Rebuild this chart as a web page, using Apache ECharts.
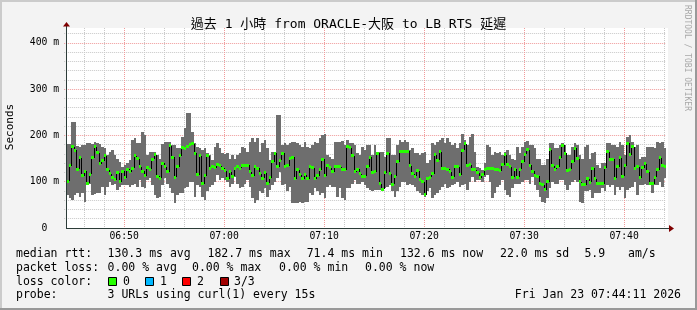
<!DOCTYPE html>
<html>
<head>
<meta charset="utf-8">
<script src="https://cdn.jsdelivr.net/npm/echarts@6/dist/echarts.min.js"></script>
<style>
html,body{margin:0;padding:0;background:#f3f3f3;}
#chart{width:697px;height:310px;}
</style>
</head>
<body>
<div id="chart"></div>
<script>
// ---------------- data ----------------
const titleText = '過去 1 小時 from ORACLE-大阪 to LB RTS 延遲';
const axisOrigin = '06:40:00';
const viewStart = '06:44:00';
const startTime = '06:44:11';
const stepSec = 15;
const spanSec = 3600;
const xTickLabels = ['06:50', '07:00', '07:10', '07:20', '07:30', '07:40'];
const yTickLabels = ['0  ', '100 m', '200 m', '300 m', '400 m'];
const yMax = 432;

const medianRtt = [
101,135,175,168,127,152,113,123,97,116,
152,175,163,139,145,156,126,117,109,104,
119,100,123,109,127,122,129,156,150,132,
123,113,130,127,148,158,112,107,140,132,
122,178,153,110,132,156,174,172,177,180,
182,161,115,156,96,113,156,129,132,130,
137,135,129,124,106,122,112,129,132,129,
135,135,136,122,113,132,129,117,107,119,
97,109,143,162,132,146,162,132,135,150,
153,106,126,115,106,115,106,132,130,106,
113,126,148,113,135,130,122,132,132,132,
126,126,176,173,156,122,127,117,112,112,
132,153,119,122,161,96,84,119,162,117,
94,112,143,166,165,165,166,135,117,112,
124,104,100,71.4,106,110,117,158,146,165,
129,129,127,122,110,132,132,115,168,182,
136,137,126,126,119,109,115,127,129,129,
129,127,126,124,137,158,137,132,110,127,
110,127,143,159,169,136,123,113,112,97,
93,83,100,169,135,127,132,152,179,162,
124,127,143,172,150,100,93,93,106,99,
129,106,97,97,96,130,165,148,149,107,
132,152,112,135,182.7,158,175,129,132,109,
130,139,122,96,96,110,126,152,136,132.6
];
const maxRtt = [
181,181,230,230,178,176,179,179,183,183,
181,185,183,181,176,172,158,165,168,158,
150,143,132,136,140,147,190,194,183,183,
208,201,158,165,165,165,158,150,181,186,
186,186,179,179,172,172,197,215,248,248,
208,183,176,172,168,172,161,158,147,176,
183,172,161,159,163,150,158,150,158,161,
176,172,165,186,194,186,194,165,183,190,
172,147,165,165,244,244,179,183,179,183,
186,186,183,179,176,186,176,172,179,186,
183,194,201,204,158,154,150,186,186,186,
188,179,190,183,183,179,161,158,176,168,
179,179,158,179,165,165,165,154,194,194,
158,158,179,190,186,190,186,168,172,161,
161,158,161,165,140,147,183,179,186,190,
194,183,194,186,179,183,172,183,204,190,
179,197,204,165,132,129,125,140,179,176,
158,165,161,165,158,165,168,158,150,147,
176,161,176,186,188,179,179,172,150,150,
136,136,150,183,183,172,172,179,183,179,
158,158,176,183,179,158,150,176,179,150,
161,165,136,129,140,140,183,183,179,179,
176,186,179,158,197,201,186,176,179,150,
154,154,176,176,176,172,186,183,186,172
];
const minRtt = [
71,64,60,71,75,68,75,57,93,96,
71,73,75,75,89,71,89,100,93,96,
82,89,93,93,93,89,93,96,89,104,
89,86,104,107,93,71,64,68,93,107,
96,86,75,53,71,75,75,86,89,100,
100,68,93,89,68,60,79,89,93,100,
115,104,107,104,100,89,96,111,96,86,
89,96,104,89,64,53,60,79,75,86,
68,82,93,100,107,122,93,96,79,89,
53,53,53,57,53,57,57,75,71,86,
79,71,75,64,89,93,89,89,68,86,
64,60,86,86,96,104,96,96,100,93,
86,82,79,82,82,82,79,86,89,93,
79,68,79,89,100,100,93,96,93,89,
79,75,71,68,79,86,64,71,75,82,
89,96,86,89,93,96,100,89,93,96,
82,100,111,100,104,104,100,111,115,100,
64,75,89,93,104,82,71,68,86,96,
96,96,100,104,104,96,111,93,82,68,
57,53,64,86,100,96,96,104,104,93,
82,93,100,104,100,57,53,79,79,82,
64,75,75,75,86,79,93,89,93,71,
89,82,89,64,82,86,89,100,71,93,
93,96,93,93,75,93,93,100,89,107
];

const legendLine1 = [['median rtt:', 16], ['130.3 ms avg', 107.6], ['182.7 ms max', 207.5], ['71.4 ms min', 306.7], ['132.6 ms now', 400], ['22.0 ms sd', 500], ['5.9', 584.4], ['am/s', 628]];
const legendLine2 = [['packet loss:', 16], ['0.00 % avg', 107.6], ['0.00 % max', 192], ['0.00 % min', 279], ['0.00 % now', 365]];
const lossLabels = ['0', '1', '2', '3/3'];
const probeText = ['probe:', '3 URLs using curl(1) every 15s'];
const dateText = 'Fri Jan 23 07:44:11 2026';
const sideText = 'RRDTOOL / TOBI OETIKER';

// ---------------- styles ----------------
const MONO = '"DejaVu Sans Mono", "Noto Sans CJK TC", monospace';
const lossColors = ['#26ff00', '#00b8ff', '#ff0000', '#a00000'];
const SMOKE = '#6e6e6e';
const MINOR = '#c8c8c8';
const MAJOR = '#f09a9a';

function toSec(s) { const p = s.split(':').map(Number); return p[0] * 3600 + p[1] * 60 + p[2]; }
const t0 = toSec(startTime) - toSec(axisOrigin);
const xMin = toSec(viewStart) - toSec(axisOrigin);
const xMax = t0 + spanSec;

const rows = medianRtt.map((m, i) => [t0 + i * stepSec, maxRtt[i], minRtt[i], m, i > 0 ? medianRtt[i - 1] : m]);

const chart = echarts.init(document.getElementById('chart'), null, { renderer: 'canvas' });

const option = {
  backgroundColor: '#f3f3f3',
  animation: false,
  title: {
    text: titleText, left: 'center', top: 13,
    textStyle: { fontFamily: MONO, fontSize: 13, fontWeight: 'normal', color: '#000' }
  },
  grid: { left: 66 - (t0 - xMin) / 6, right: 31, top: 28, bottom: 82, containLabel: false },
  xAxis: {
    type: 'value', min: xMin, max: xMax, interval: 120,
    axisLine: { show: false }, axisTick: { show: false },
    splitLine: { show: true, showMinLine: false, showMaxLine: false,
      lineStyle: { color: [MINOR, MINOR, MAJOR, MINOR, MINOR], type: [1, 1], width: 1 } },
    axisLabel: {
      margin: 4, fontFamily: MONO, fontSize: 9.75, color: '#000',
      showMinLabel: false, showMaxLabel: false,
      formatter: v => (v % 600 === 0 && v >= 600) ? (xTickLabels[v / 600 - 1] || '') : ''
    }
  },
  yAxis: {
    type: 'value', min: 0, max: yMax, interval: 20,
    axisLine: { show: false }, axisTick: { show: false },
    splitLine: { show: true, showMinLine: false, showMaxLine: false,
      lineStyle: { color: [MINOR, MINOR, MINOR, MINOR, MAJOR], type: [1, 1], width: 1 } },
    axisLabel: {
      margin: 5, fontFamily: MONO, fontSize: 9.75, color: '#000',
      formatter: v => (v % 100 === 0) ? (yTickLabels[v / 100] || '') : ''
    }
  },
  series: [
    {
      type: 'custom', name: 'smoke', data: rows, z: 2,
      encode: { x: 0, y: [1, 2] },
      renderItem: (params, api) => {
        const t = api.value(0);
        const a = api.coord([t, api.value(1)]);
        const b = api.coord([t + stepSec, api.value(2)]);
        const x1 = Math.round(a[0]), x2 = Math.round(b[0]);
        const y1 = Math.round(a[1]), y2 = Math.round(b[1]);
        return { type: 'rect', shape: { x: x1, y: y1, width: x2 - x1, height: y2 - y1 }, style: { fill: SMOKE } };
      }
    },
    {
      type: 'custom', name: 'step', data: rows, z: 3,
      encode: { x: 0, y: 3 },
      renderItem: (params, api) => {
        const t = api.value(0);
        const a = api.coord([t, api.value(4)]);
        const b = api.coord([t, api.value(3)]);
        const x = Math.round(a[0]) + 0.5;
        return { type: 'line', shape: { x1: x, y1: Math.round(a[1]), x2: x, y2: Math.round(b[1]) }, style: { stroke: '#000', lineWidth: 1 } };
      }
    },
    {
      type: 'custom', name: 'median', data: rows, z: 4,
      encode: { x: 0, y: 3 },
      renderItem: (params, api) => {
        const t = api.value(0);
        const a = api.coord([t, api.value(3)]);
        const b = api.coord([t + stepSec, api.value(3)]);
        const x1 = Math.round(a[0]), x2 = Math.round(b[0]);
        const y = Math.round(a[1] - 1.5);
        return { type: 'rect', shape: { x: x1, y: y, width: Math.max(2, x2 - x1), height: 3 }, style: { fill: lossColors[0] } };
      }
    }
  ]
};
chart.setOption(option);

// ----- decorations positioned from the axes -----
const px0 = Math.round(chart.convertToPixel({ xAxisIndex: 0 }, t0));
const pxEnd = Math.round(chart.convertToPixel({ xAxisIndex: 0 }, xMax));
const py0 = Math.round(chart.convertToPixel({ yAxisIndex: 0 }, 0));
const pyTop = Math.round(chart.convertToPixel({ yAxisIndex: 0 }, yMax));
const AXIS = '#2c3c38';
const ARROW = '#7f0000';

const g = [];
// frame
g.push({ type: 'rect', z: 50, shape: { x: 0, y: 0, width: 697, height: 2 }, style: { fill: '#cbcbcb' } });
g.push({ type: 'rect', z: 50, shape: { x: 0, y: 0, width: 2, height: 310 }, style: { fill: '#cbcbcb' } });
g.push({ type: 'rect', z: 50, shape: { x: 0, y: 308, width: 697, height: 2 }, style: { fill: '#999999' } });
g.push({ type: 'rect', z: 50, shape: { x: 695, y: 0, width: 2, height: 310 }, style: { fill: '#999999' } });
// canvas
g.push({ type: 'rect', z: -10, shape: { x: px0, y: pyTop, width: pxEnd - px0 + 2, height: py0 - pyTop }, style: { fill: '#ffffff' } });
// axis lines
g.push({ type: 'rect', z: 20, shape: { x: px0, y: pyTop - 2, width: 1, height: py0 - pyTop + 3 }, style: { fill: AXIS } });
g.push({ type: 'rect', z: 20, shape: { x: px0, y: py0, width: pxEnd - px0 + 3, height: 1 }, style: { fill: AXIS } });
// arrows
g.push({ type: 'polygon', z: 21, shape: { points: [[px0 + 0.5, pyTop - 6], [px0 - 3, pyTop - 1.5], [px0 + 4, pyTop - 1.5]] }, style: { fill: ARROW } });
g.push({ type: 'polygon', z: 21, shape: { points: [[pxEnd + 8, py0 + 0.5], [pxEnd + 3, py0 - 3], [pxEnd + 3, py0 + 4]] }, style: { fill: ARROW } });
// y axis name
g.push({ type: 'text', z: 20, x: 10, y: 127, rotation: Math.PI / 2,
  style: { text: 'Seconds', font: '11px ' + MONO, fill: '#000', align: 'center', verticalAlign: 'middle' } });
// side credit
g.push({ type: 'text', z: 20, x: 687, y: 58, rotation: -Math.PI / 2,
  style: { text: sideText, font: '8px ' + MONO, fill: '#a8a8a8', align: 'center', verticalAlign: 'middle' } });

const LF = '11.5px ' + MONO;
function addText(txt, x, y, align) {
  g.push({ type: 'text', z: 20, x: x, y: y, style: { text: txt, font: LF, fill: '#000', align: align || 'left', verticalAlign: 'middle' } });
}
legendLine1.forEach(([t, x]) => addText(t, x, 254.5));
legendLine2.forEach(([t, x]) => addText(t, x, 268));
addText('loss color:', 16, 282);
const sqX = [108.5, 145.5, 182.5, 220.5];
const lblX = [123, 160, 197, 234];
lossLabels.forEach((l, i) => {
  g.push({ type: 'rect', z: 20, shape: { x: sqX[i], y: 277.5, width: 8, height: 8 }, style: { fill: lossColors[i], stroke: '#000', lineWidth: 1 } });
  addText(l, lblX[i], 282);
});
addText(probeText[0], 16, 295.5);
addText(probeText[1], 107.6, 295.5);
addText(dateText, 681, 295.5, 'right');

chart.setOption({ graphic: { elements: g } });
</script>
</body>
</html>
